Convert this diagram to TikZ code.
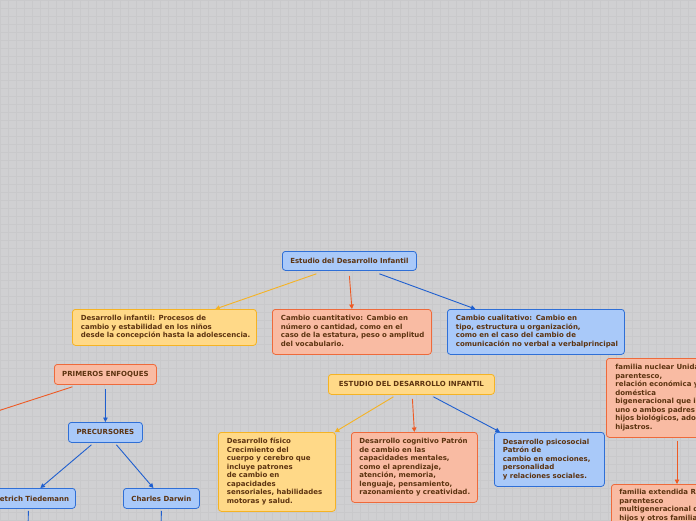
\documentclass[tikz,border=0pt]{standalone}
\usepackage{fontspec}
\setmainfont{DejaVu Sans}
\usetikzlibrary{arrows.meta}
\newcommand{\lines}[1]{\begin{tabular}{@{}l@{}}#1\end{tabular}}
\definecolor{bgc}{HTML}{D0D0D2}
\definecolor{gridc}{HTML}{C9C9CB}
\definecolor{bluef}{HTML}{A9C9F9}
\definecolor{bluel}{HTML}{2F6FD6}
\definecolor{yelf}{HTML}{FFD988}
\definecolor{yell}{HTML}{F5B324}
\definecolor{salf}{HTML}{F9BBA3}
\definecolor{sall}{HTML}{EE6A3B}
\definecolor{txt}{HTML}{5C3310}
\definecolor{ya}{HTML}{F5B324}
\definecolor{ra}{HTML}{EE5A24}
\definecolor{ba}{HTML}{1F5FCF}
\tikzset{
  box/.style={draw, rounded corners=3pt, line width=0.8pt, anchor=north west,
    font=\fontsize{7}{8.5}\selectfont\bfseries, text=txt, inner xsep=2pt, inner ysep=3pt},
  multi/.style={align=left, inner xsep=8.5pt},
  bbox/.style={box, fill=bluef, draw=bluel},
  ybox/.style={box, fill=yelf, draw=yell},
  sbox/.style={box, fill=salf, draw=sall},
  conn/.style={line width=0.9pt, -{Triangle[length=4.5pt,width=4.5pt]}},
  yconn/.style={conn, draw=ya},
  rconn/.style={conn, draw=ra},
  bconn/.style={conn, draw=ba},
  plain/.style={line width=0.9pt},
}
\begin{document}
\begin{tikzpicture}[x=1pt,y=-1pt]
\useasboundingbox (0,0) rectangle (696,520);
\clip (0,0) rectangle (696,520);
\fill[bgc] (0,0) rectangle (696,520);
\draw[gridc, line width=0.25pt, step=8pt] (0,0) grid (696,520);

\node[bbox, minimum width=134pt, minimum height=19pt, align=center] (n1) at (282,251) {Estudio del Desarrollo Infantil};
\node[ybox, multi, minimum height=36pt, text width=167pt] (n2) at (72,309) {\lines{Desarrollo infantil: Procesos de\\cambio y estabilidad en los niños\\desde la concepción hasta la adolescencia.}};
\node[sbox, multi, minimum height=45pt, text width=142pt] (n3) at (272,309) {\lines{Cambio cuantitativo: Cambio en\\número o cantidad, como en el\\caso de la estatura, peso o amplitud\\del vocabulario.}};
\node[bbox, multi, minimum height=45pt, text width=160pt] (n4) at (447,309) {\lines{Cambio cualitativo: Cambio en\\tipo, estructura u organización,\\como en el caso del cambio de\\comunicación no verbal a verbalprincipal}};

\node[sbox, minimum width=102pt, minimum height=20pt, align=center] (n5) at (54,364) {PRIMEROS ENFOQUES};
\node[bbox, minimum width=74pt, minimum height=20pt, align=center] (n6) at (68,422) {PRECURSORES};
\node[bbox, minimum width=90pt, minimum height=20pt, align=center] (n7) at (-15,488) {Dietrich Tiedemann};
\node[bbox, minimum width=76pt, minimum height=20pt, align=center] (n8) at (123,488) {Charles Darwin};

\node[ybox, minimum width=166pt, minimum height=20pt, align=center] (n9) at (328,374) {ESTUDIO DEL DESARROLLO INFANTIL};
\node[ybox, multi, minimum height=79pt, text width=100pt] (n10) at (218,432) {\lines{Desarrollo físico\\Crecimiento del\\cuerpo y cerebro que\\incluye patrones\\de cambio en\\capacidades\\sensoriales, habilidades\\motoras y salud.}};
\node[sbox, multi, minimum height=70pt, text width=110pt, inner xsep=8pt] (n11) at (351,432) {\lines{Desarrollo cognitivo Patrón\\de cambio en las\\capacidades mentales,\\como el aprendizaje,\\atención, memoria,\\lenguaje, pensamiento,\\razonamiento y creatividad.}};
\node[bbox, multi, minimum height=54pt, text width=93pt] (n12) at (494,432) {\lines{Desarrollo psicosocial\\Patrón de\\cambio en emociones,\\personalidad\\y relaciones sociales.}};

\node[sbox, multi, minimum height=79pt, text width=140pt, inner xsep=9pt] (n13) at (606,358) {\lines{familia nuclear Unidad de\\parentesco,\\relación económica y\\doméstica\\bigeneracional que incluye\\uno o ambos padres y sus\\hijos biológicos, adoptados o\\hijastros.}};
\node[sbox, multi, minimum height=70pt, text width=140pt, inner xsep=8pt, inner ysep=5pt] (n14) at (611,484) {\vbox to 62pt{\hbox{familia extendida Red de}\hbox{parentesco}\hbox{multigeneracional de padres,}\hbox{hijos y otros familiares}\vss}};

\coordinate (offl) at (-30,420);
\coordinate (off7) at (28,530);
\coordinate (off8) at (161,530);

\draw[yconn] ([xshift=-33pt,yshift=-3pt]n1.south) -- ([xshift=51pt]n2.north);
\draw[rconn] ([yshift=-5pt]n1.south) -- (n3.north);
\draw[bconn] ([xshift=30pt,yshift=-3pt]n1.south) -- ([xshift=-60.5pt]n4.north);

\draw[plain, draw=ra] ([xshift=-33pt,yshift=-2pt]n5.south) -- (offl);
\draw[bconn] ([yshift=-4pt]n5.south) -- (n6.north);
\draw[bconn] ([xshift=-14pt,yshift=-2pt]n6.south) -- ([xshift=10pt]n7.north);
\draw[bconn] ([xshift=11pt,yshift=-2pt]n6.south) -- ([xshift=-8pt]n8.north);
\draw[plain, draw=ba] ([xshift=-2pt,yshift=-2pt]n7.south) -- (off7);
\draw[plain, draw=ba] ([yshift=-2pt]n8.south) -- (off8);

\draw[yconn] ([xshift=-18pt,yshift=-2pt]n9.south) -- ([xshift=-1pt]n10.north east);
\draw[rconn] ([xshift=1pt,yshift=-4pt]n9.south) -- (n11.north);
\draw[bconn] ([xshift=22pt,yshift=-2pt]n9.south) -- ([xshift=6pt]n12.north west);

\draw[rconn] ([xshift=71pt,yshift=-3pt]n13.south west) -- ([xshift=66pt]n14.north west);
\end{tikzpicture}
\end{document}
